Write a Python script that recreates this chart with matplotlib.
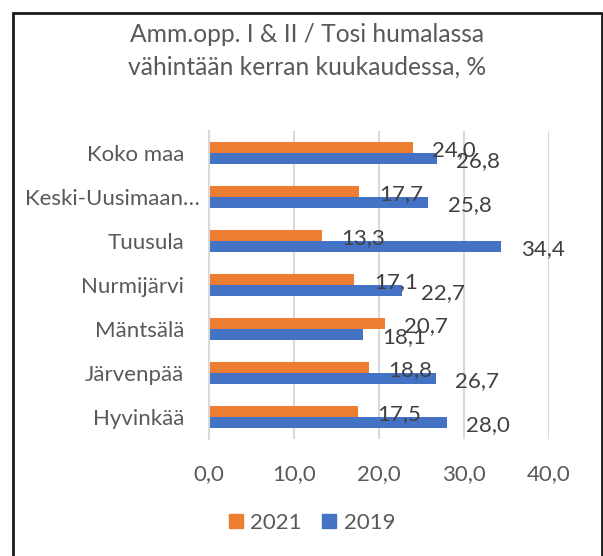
import matplotlib
matplotlib.use("Agg")
import matplotlib.pyplot as plt
from matplotlib.transforms import ScaledTranslation
from matplotlib.patches import Rectangle, Patch

categories = ["Koko maa", "Keski-Uusimaan…", "Tuusula", "Nurmijärvi",
              "Mäntsälä", "Järvenpää", "Hyvinkää"]
values_2021 = [24.0, 17.7, 13.3, 17.1, 20.7, 18.8, 17.5]
values_2019 = [26.8, 25.8, 34.4, 22.7, 18.1, 26.7, 28.0]
xticks = [0, 10, 20, 30, 40]
xtick_labels = ["0,0", "10,0", "20,0", "30,0", "40,0"]
title_lines = ["Amm.opp. I & II / Tosi humalassa", "vähintään kerran kuukaudessa, %"]

plt.rcParams['font.family'] = ['Lato', 'DejaVu Sans']

W, H = 603, 556
fig = plt.figure(figsize=(W / 100, H / 100), dpi=100)
ax = fig.add_axes([209 / W, 1 - 439 / H, 340 / W, 308 / H])

orange = "#ED7D31"
blue = "#4472C4"
n = len(categories)
ypos = list(range(n))
bh = 0.25
ax.barh([y - bh / 2 for y in ypos], values_2021, height=bh, color=orange, label="2021")
ax.barh([y + bh / 2 for y in ypos], values_2019, height=bh, color=blue, label="2019")

ax.set_xlim(0, 40)
ax.set_ylim(n - 0.5, -0.5)
ax.set_xticks(xticks)
ax.set_xticklabels(xtick_labels)
ax.set_yticks(ypos)
ax.set_yticklabels(categories)

for s in ["top", "right", "bottom"]:
    ax.spines[s].set_visible(False)
ax.spines["left"].set_color("#D9D9D9")
ax.spines["left"].set_linewidth(1.5)
ax.grid(axis="x", color="#D9D9D9", linewidth=1.5)
ax.set_axisbelow(True)
ax.tick_params(axis="both", length=0, labelsize=16, colors="#595959")
ax.tick_params(axis="x", pad=18)
ax.tick_params(axis="y", pad=18)

for lbl in ax.get_yticklabels():
    if lbl.get_text().startswith("Keski"):
        lbl.set_transform(lbl.get_transform() + ScaledTranslation(0.16, 0, fig.dpi_scale_trans))

for y, v in zip(ypos, values_2021):
    ax.annotate(f"{v:.1f}".replace(".", ","), (v, y - bh / 2), xytext=(14, -2.2),
                textcoords="offset points", ha="left", va="center",
                fontsize=16, color="#404040")
for y, v in zip(ypos, values_2019):
    ax.annotate(f"{v:.1f}".replace(".", ","), (v, y + bh / 2), xytext=(14, -2.2),
                textcoords="offset points", ha="left", va="center",
                fontsize=16, color="#404040")

fig.text(307 / W, 1 - 42 / H, title_lines[0], ha="center", va="baseline", fontsize=17.7,
         color="#595959")
fig.text(307 / W, 1 - 75 / H, title_lines[1], ha="center", va="baseline", fontsize=17.7,
         color="#595959")

handles = [Patch(color=orange, label="2021"), Patch(color=blue, label="2019")]
fig.legend(handles=handles, loc="center", bbox_to_anchor=(312 / W, 1 - 523 / H),
           ncol=2, frameon=False, fontsize=16, handlelength=0.63, handleheight=0.63,
           handletextpad=0.35, columnspacing=0.9, labelcolor="#595959")

border = Rectangle((12.5 / W, -0.1), (601.5 - 12.5) / W, 1.1 - 12.5 / H,
                   transform=fig.transFigure, fill=False, edgecolor="#1a1a1a",
                   linewidth=2, clip_on=False)
fig.patches.append(border)

fig.savefig("out.png", dpi=100)
